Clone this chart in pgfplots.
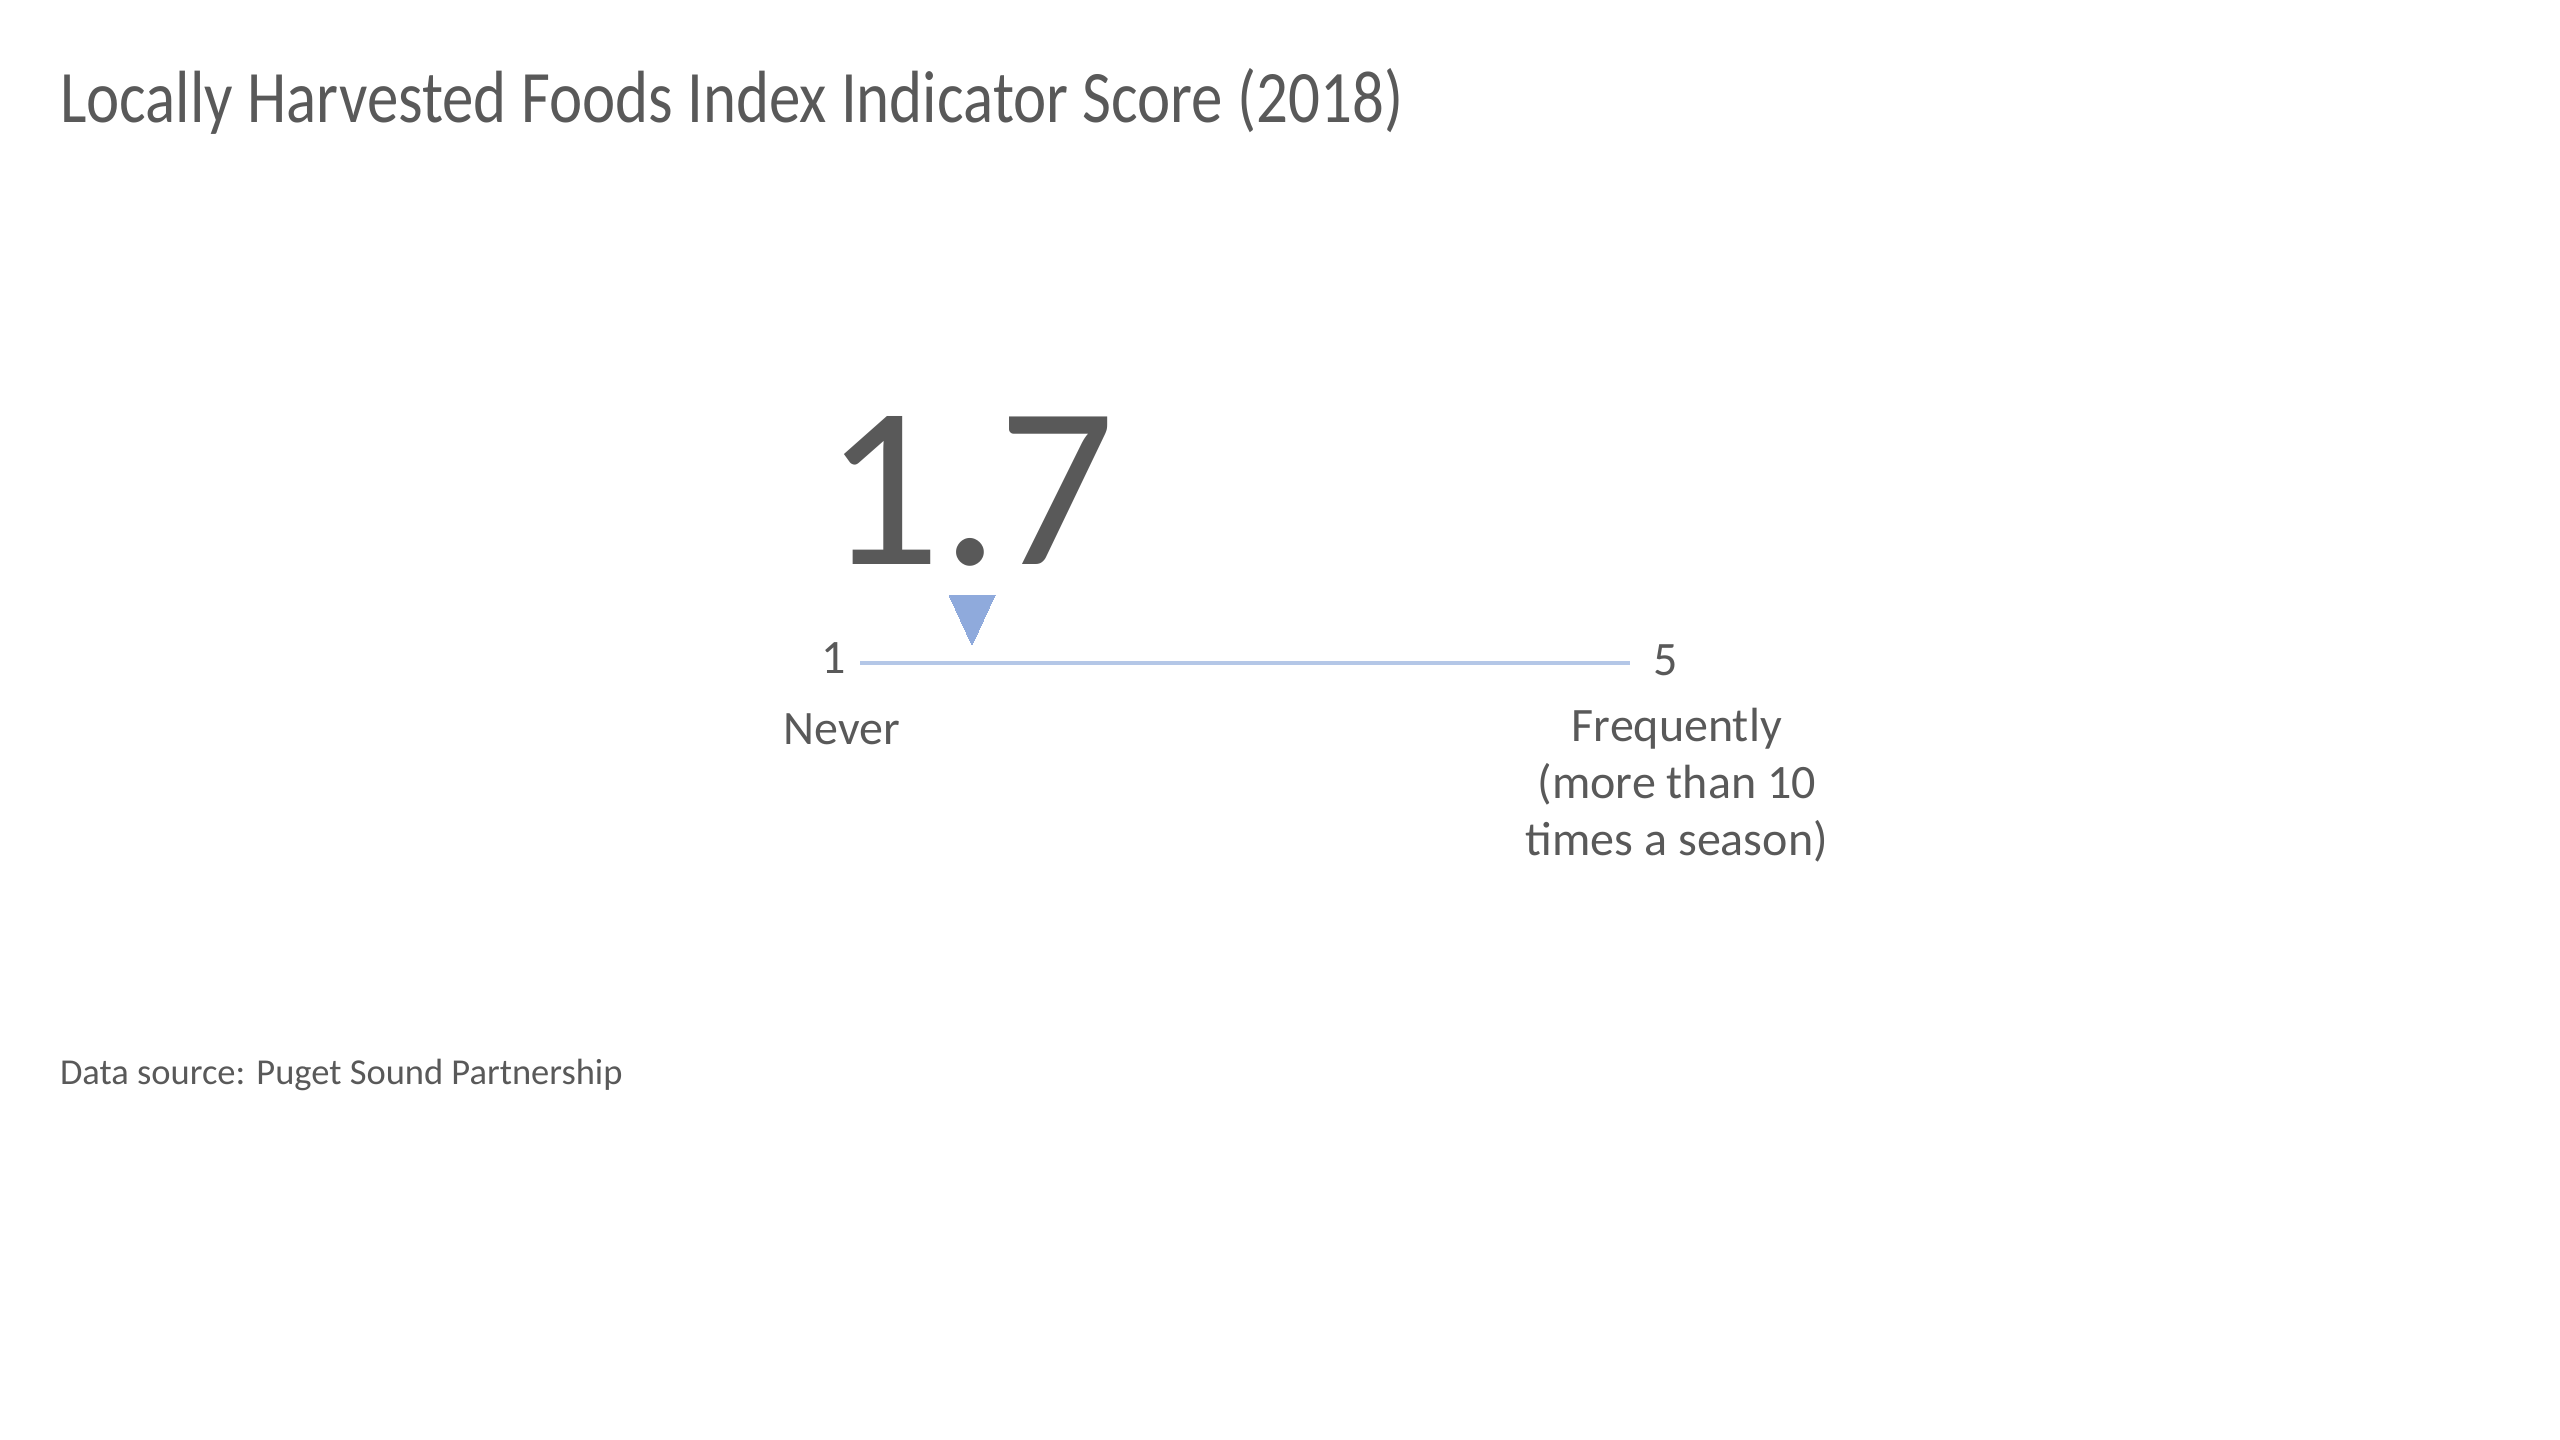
\documentclass[border=0pt]{standalone}
\usepackage{pgfplots}
\pgfplotsset{compat=1.18}
\usepackage{fontspec}
\setmainfont{Carlito}
\definecolor{txt}{HTML}{595959}
\definecolor{gline}{HTML}{B4C7E7}
\definecolor{tri}{HTML}{8FAADC}
\begin{document}
\begin{tikzpicture}
\begin{axis}[
  width=512pt, height=288pt, scale only axis,
  xmin=-3.3494, xmax=9.9494, ymin=0, ymax=1440,
  hide axis, clip=false,
]
\draw[draw=none] (rel axis cs:0,0) rectangle (rel axis cs:1,1);
% gauge line (scale 1 to 5)
\addplot[color=gline, line width=0.7pt, no markers] coordinates {(1.1182,777) (5.1182,777)};
% score marker
\addplot[color=tri, only marks, mark=triangle*, mark size=5.31pt,
  mark options={rotate=180, yscale=1.255, fill=tri, draw=tri, line width=0pt}] coordinates {(1.7,828.3)};
% texts
\node[anchor=base west, inner sep=0pt, text=txt, font=\fontsize{14.8}{17.8}\selectfont] at (rel axis cs:0.02305,0.9150) {\scalebox{0.85}[1]{Locally Harvested Foods Index Indicator Score (2018)}};
\node[anchor=base, text=txt, font=\fontsize{46}{55}\selectfont] at (rel axis cs:0.3789,0.6083) {1.7};
\node[anchor=base, text=txt, font=\fontsize{9.6}{11.5}\selectfont] at (rel axis cs:0.3258,0.5326) {1};
\node[anchor=base, text=txt, font=\fontsize{9.6}{11.5}\selectfont] at (rel axis cs:0.6505,0.5310) {5};
\node[anchor=base, text=txt, font=\fontsize{9.6}{11.5}\selectfont] at (rel axis cs:0.3289,0.4830) {Never};
\node[anchor=base, text=txt, font=\fontsize{9.6}{11.5}\selectfont] at (rel axis cs:0.6550,0.4852) {Frequently};
\node[anchor=base, text=txt, font=\fontsize{9.6}{11.5}\selectfont] at (rel axis cs:0.6550,0.4456) {(more than 10};
\node[anchor=base, text=txt, font=\fontsize{9.6}{11.5}\selectfont] at (rel axis cs:0.6550,0.4060) {times a season)};
\node[anchor=base west, inner sep=0pt, text=txt, font=\fontsize{7.3}{8.8}\selectfont] at (rel axis cs:0.02305,0.2472) {Data source: Puget Sound Partnership};
\end{axis}
\end{tikzpicture}
\end{document}
